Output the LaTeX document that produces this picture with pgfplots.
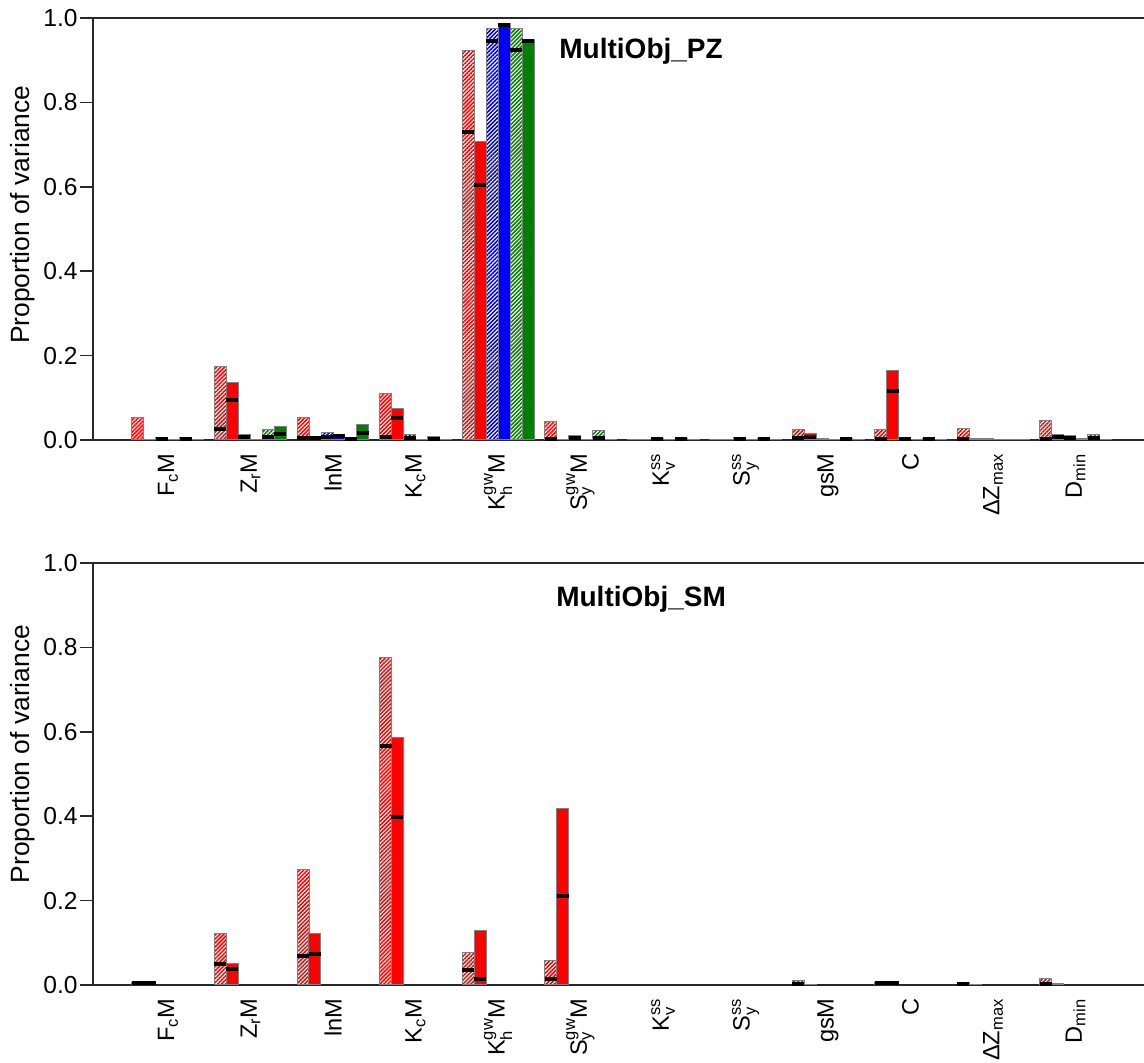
\documentclass[border=0pt]{standalone}
\usepackage{fontspec}
\setmainfont{Liberation Sans}
\usepackage{amsmath}
\usepackage{pgfplots}
\pgfplotsset{compat=1.18}
\usepackage{pgfplotstable}
\usetikzlibrary{patterns.meta}

\definecolor{myred}{RGB}{255,0,0}
\definecolor{myblue}{RGB}{0,0,255}
\definecolor{mygreen}{RGB}{0,128,0}
\definecolor{edgegray}{RGB}{128,128,128}
\definecolor{spine}{RGB}{40,40,40}

% MultiObj_PZ: hatched (H) / solid (S) bars, with marker values (m); nan = no marker
\pgfplotstableread{
x  RH    RHm   RS    RSm   BH    BHm   BS    BSm   GH    GHm   GS    GSm
0  0.053 nan   0.002 nan   0.005 0.003 0.002 nan   0.005 0.003 0.002 nan
1  0.175 0.027 0.136 0.095 0.012 0.006 0.002 nan   0.025 0.006 0.033 0.015
2  0.054 0.005 0.008 0.004 0.017 0.008 0.012 0.009 0.005 0.003 0.036 0.017
3  0.111 0.006 0.075 0.052 0.012 0.005 0.002 nan   0.009 0.003 0.002 nan
4  0.922 0.729 0.707 0.604 0.976 0.945 0.987 0.983 0.976 0.924 0.950 0.946
5  0.044 0.003 0.002 nan   0.010 0.004 0.002 nan   0.022 0.005 0.002 nan
6  0.002 nan   0.001 nan   0.004 0.002 0.001 nan   0.004 0.002 0.001 nan
7  0.002 nan   0.001 nan   0.006 0.003 0.001 nan   0.004 0.002 0.001 nan
8  0.025 0.004 0.016 0.008 0.003 nan   0.002 nan   0.004 0.002 0.002 nan
9  0.025 0.003 0.164 0.117 0.004 0.002 0.002 nan   0.004 0.002 0.002 nan
10 0.028 0.003 0.003 nan   0.003 nan   0.002 nan   0.002 nan   0.002 nan
11 0.047 0.003 0.014 0.008 0.010 0.005 0.003 nan   0.012 0.004 0.002 nan
}\pz

% MultiObj_SM
\pgfplotstableread{
x  RH    RHm   RS    RSm
0  0.006 0.004 0.008 0.005
1  0.122 0.049 0.050 0.037
2  0.274 0.069 0.122 0.073
3  0.777 0.566 0.586 0.399
4  0.077 0.036 0.128 0.014
5  0.057 0.014 0.419 0.212
8  0.011 0.003 0.002 nan
9  0.005 0.004 0.005 0.004
10 0.007 0.003 0.002 nan
11 0.015 0.003 0.003 nan
}\sm

\pgfplotsset{
  hatchbar/.style={ybar, bar width=6pt, bar shift=0pt, draw=edgegray, line width=0.5pt,
     pattern={Lines[angle=45,distance=1.4pt,line width=0.75pt]}, pattern color=#1},
  solidbar/.style={ybar, bar width=6pt, bar shift=0pt, draw=edgegray, line width=0.5pt, fill=#1},
  mk/.style={only marks, mark=-, mark size=3pt, mark options={line width=2pt, draw=black},
     unbounded coords=discard},
  mybase/.style={
    scale only axis, width=528.5pt, height=211pt,
    xmin=-0.909, xmax=11.903, ymin=0, ymax=1,
    clip=false,
    xtick={0,...,11},
    xticklabels={F$_{\text{c}}$M, Z$_{\text{r}}$M, lnM, K$_{\text{c}}$M,
      K$_{\text{h}}^{\text{gw}}$M, S$_{\text{y}}^{\text{gw}}$M,
      K$_{\text{v}}^{\text{ss}}$, S$_{\text{y}}^{\text{ss}}$, gsM, C,
      ΔZ$_{\text{max}}$, D$_{\text{min}}$},
    ytick={0,0.2,0.4,0.6,0.8,1.0},
    ytick pos=left, tick align=outside, major tick length=6.5pt,
    xtick style={draw=none},
    ytick style={draw=spine, line width=0.75pt},
    axis line style={draw=spine, line width=0.75pt},
    yticklabel style={font=\fontsize{12.3}{14}\selectfont, inner sep=1pt,
      /pgf/number format/.cd, fixed, fixed zerofill, precision=1, assume math mode=true},
    xticklabel style={rotate=90, anchor=east, inner sep=0pt,
      font=\fontsize{11.8}{13}\selectfont},
    ylabel={Proportion of variance},
    every axis y label/.style={xshift=-35pt, rotate=90, anchor=center,
      font=\fontsize{13.2}{15}\selectfont},
  }
}

\begin{document}
\begin{tikzpicture}
\begin{axis}[mybase, at={(46.5pt,311.5pt)}, anchor=south west,
   ylabel style={at={(axis description cs:0,0.534)}}]
  \addplot[hatchbar=myred]   table[x expr=\thisrow{x}-0.3636, y=RH]{\pz};
  \addplot[solidbar=myred]   table[x expr=\thisrow{x}-0.2182, y=RS]{\pz};
  \addplot[hatchbar=myblue]  table[x expr=\thisrow{x}-0.0727, y=BH]{\pz};
  \addplot[solidbar=myblue]  table[x expr=\thisrow{x}+0.0727, y=BS]{\pz};
  \addplot[hatchbar=mygreen] table[x expr=\thisrow{x}+0.2182, y=GH]{\pz};
  \addplot[solidbar=mygreen] table[x expr=\thisrow{x}+0.3636, y=GS]{\pz};
  \addplot[mk] table[x expr=\thisrow{x}-0.3636, y=RHm]{\pz};
  \addplot[mk] table[x expr=\thisrow{x}-0.2182, y=RSm]{\pz};
  \addplot[mk] table[x expr=\thisrow{x}-0.0727, y=BHm]{\pz};
  \addplot[mk] table[x expr=\thisrow{x}+0.0727, y=BSm]{\pz};
  \addplot[mk] table[x expr=\thisrow{x}+0.2182, y=GHm]{\pz};
  \addplot[mk] table[x expr=\thisrow{x}+0.3636, y=GSm]{\pz};
  \node[font=\bfseries\fontsize{14}{16}\selectfont, anchor=base]
     at (axis description cs:0.5185,0.903) {MultiObj\_PZ};
\end{axis}
\begin{axis}[mybase, at={(46.5pt,39pt)}, anchor=south west,
   ylabel style={at={(axis description cs:0,0.547)}}]
  \addplot[hatchbar=myred]   table[x expr=\thisrow{x}-0.3636, y=RH]{\sm};
  \addplot[solidbar=myred]   table[x expr=\thisrow{x}-0.2182, y=RS]{\sm};
  \addplot[mk] table[x expr=\thisrow{x}-0.3636, y=RHm]{\sm};
  \addplot[mk] table[x expr=\thisrow{x}-0.2182, y=RSm]{\sm};
  \node[font=\bfseries\fontsize{14}{16}\selectfont, anchor=base]
     at (axis description cs:0.5185,0.898) {MultiObj\_SM};
\end{axis}
\pgfresetboundingbox
\path[use as bounding box] (0,0) rectangle (572pt,531.5pt);
\end{tikzpicture}
\end{document}
